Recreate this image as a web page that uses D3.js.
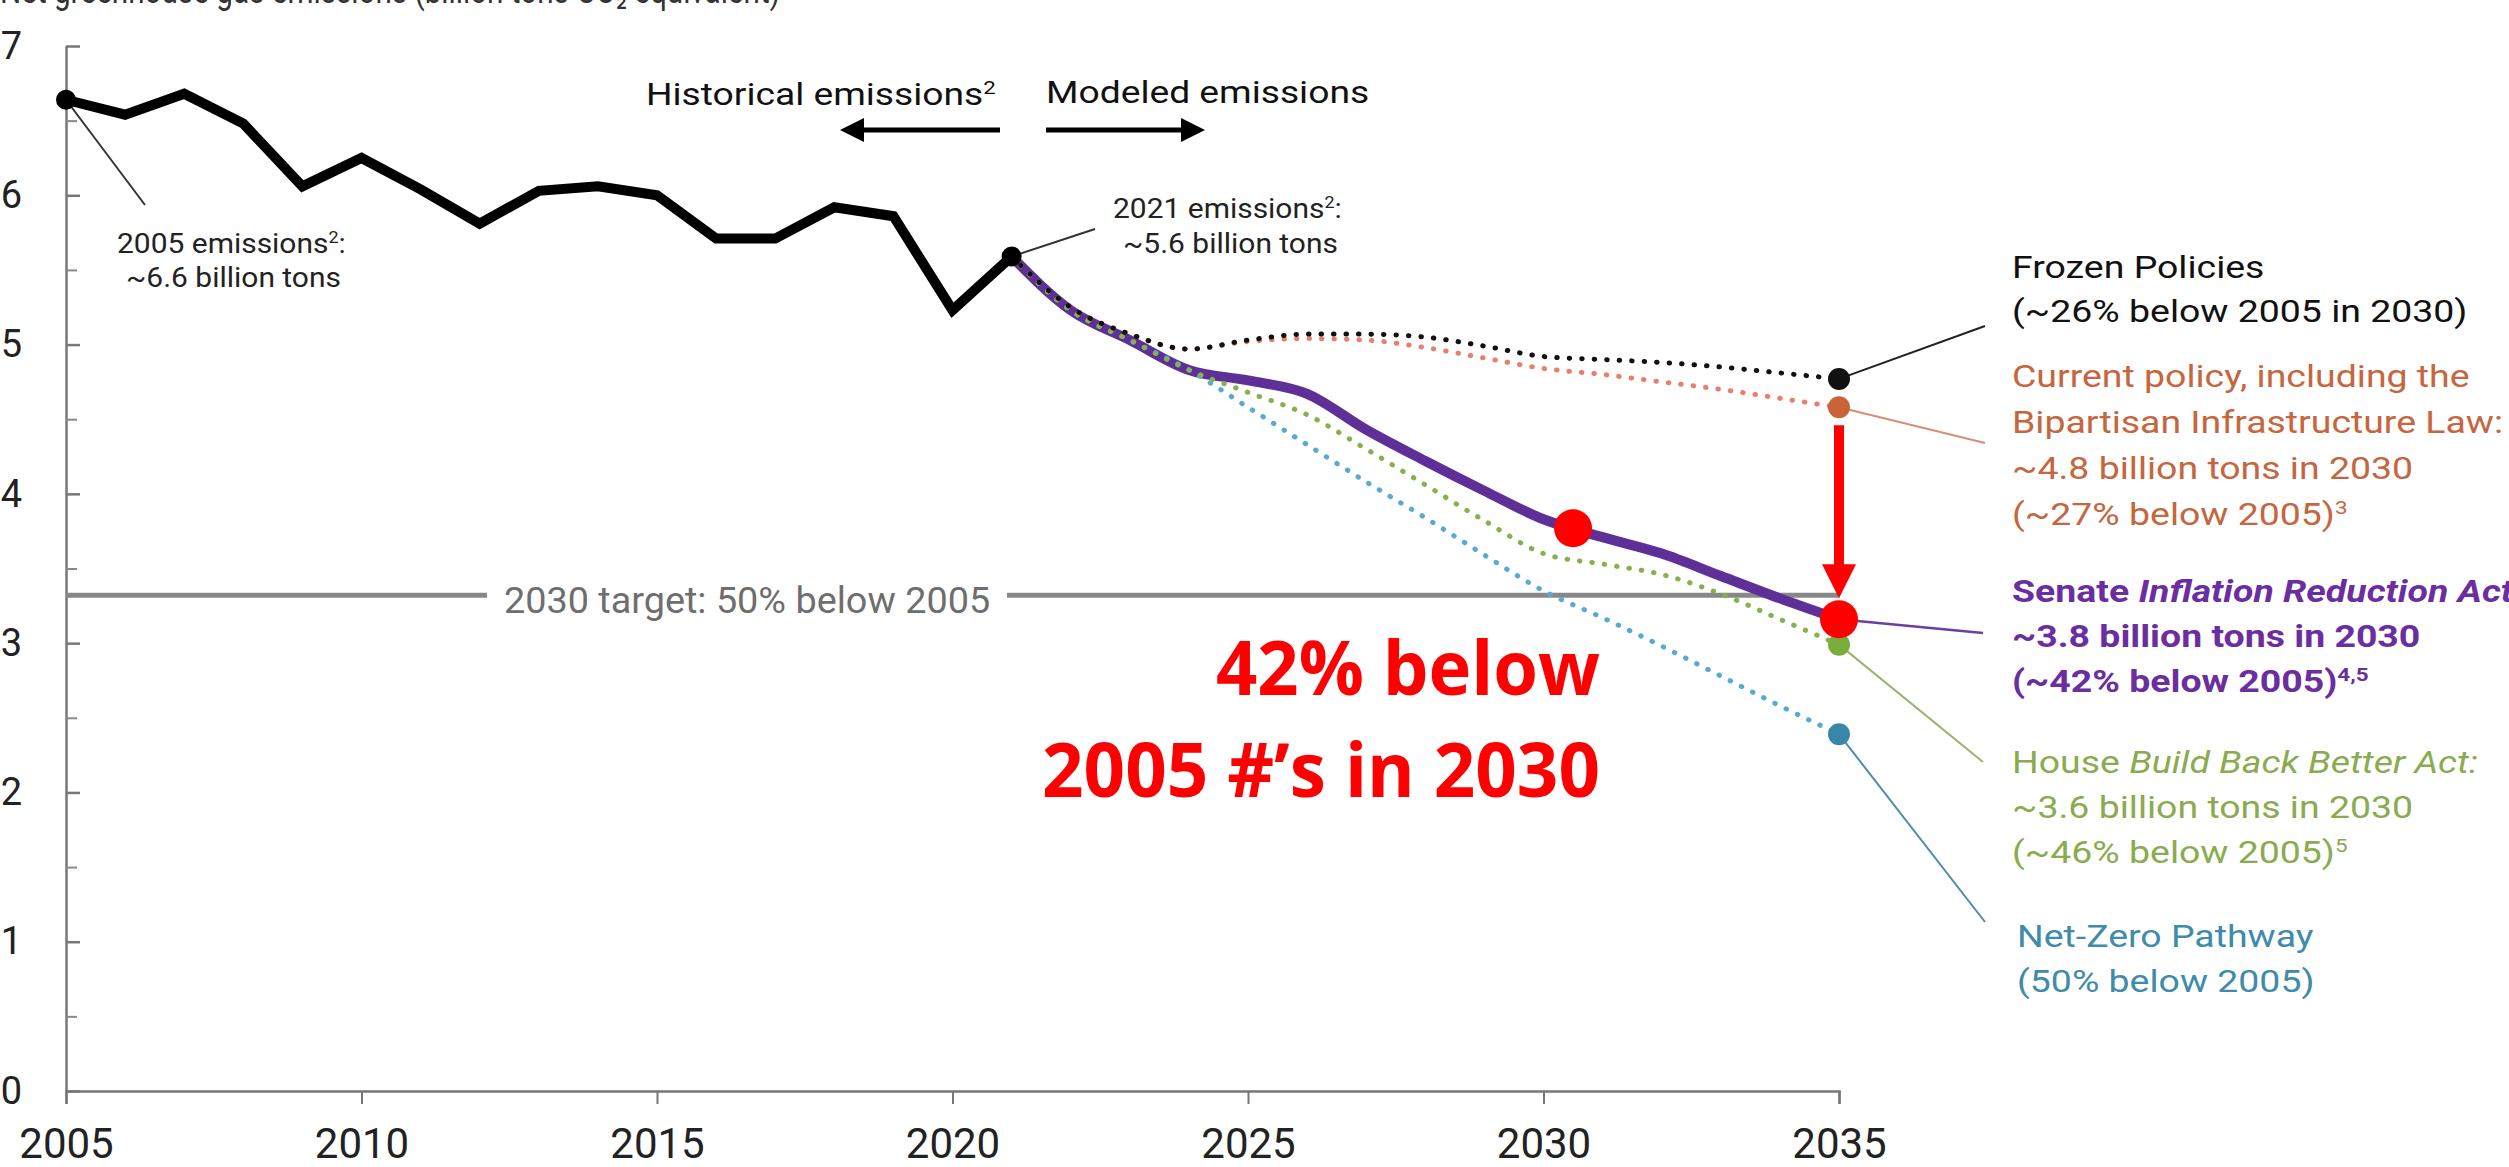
<!DOCTYPE html>
<html>
<head>
<meta charset="utf-8">
<script src="https://cdn.jsdelivr.net/npm/d3@7"></script>
<style>
  body { margin: 0; background: #fff; }
  svg { display: block; font-family: Roboto, "Noto Sans", sans-serif; }
</style>
</head>
<body>
<div id="chart"></div>
<script>
var width = 2509, height = 1167;

// historical emissions, billion tons
var histYears = [2005, 2006, 2007, 2008, 2009, 2010, 2011, 2012, 2013, 2014, 2015, 2016, 2017, 2018, 2019, 2020, 2021];
var histValues = [6.64, 6.54, 6.68, 6.48, 6.06, 6.25, 6.04, 5.81, 6.03, 6.06, 6.00, 5.71, 5.71, 5.92, 5.86, 5.23, 5.59];

// modeled emissions
var projYears = [2021, 2022, 2023, 2024, 2025, 2026, 2027, 2028, 2029, 2030, 2031, 2032, 2033, 2034, 2035];
var frozen  = [5.59, 5.25, 5.07, 4.97, 5.03, 5.07, 5.07, 5.05, 4.99, 4.92, 4.90, 4.88, 4.85, 4.81, 4.77];
var current = [5.59, 5.25, 5.07, 4.97, 5.02, 5.04, 5.03, 4.98, 4.91, 4.84, 4.80, 4.75, 4.70, 4.64, 4.58];
var ira     = [5.59, 5.23, 5.03, 4.83, 4.76, 4.67, 4.43, 4.22, 4.02, 3.83, 3.71, 3.60, 3.45, 3.30, 3.16];
var bbb     = [5.59, 5.23, 5.03, 4.83, 4.68, 4.53, 4.30, 4.06, 3.82, 3.60, 3.53, 3.46, 3.33, 3.16, 2.99];
var netZero = [5.59, 5.23, 5.03, 4.83, 4.58, 4.33, 4.08, 3.84, 3.59, 3.35, 3.17, 2.98, 2.78, 2.58, 2.39];

var target = 3.32;          // 50% below 2005
var xTicks = [2005, 2010, 2015, 2020, 2025, 2030, 2035];
var yTicks = [0, 1, 2, 3, 4, 5, 6, 7];

// red annotation: dot on the IRA line and arrow from current policy down to IRA
var redDots = [{year: 2030.5, value: 3.77}, {year: 2035, value: 3.16}];
var redArrow = {year: 2035, from: 4.46, to: 3.30};

var svg = d3.select('#chart').append('svg')
    .attr('width', width)
    .attr('height', height);

var x = d3.scaleLinear().domain([2005, 2035]).range([66, 1839]);
var y = d3.scaleLinear().domain([0, 7]).range([1091, 46]);

// cut-off title at the very top
svg.append('text')
    .attr('x', 0).attr('y', 3)
    .attr('textLength', 780).attr('lengthAdjust', 'spacingAndGlyphs')
    .style('font-size', '36px').style('fill', '#333')
    .text('Net greenhouse gas emissions (billion tons CO₂ equivalent)');

// axes
var xAxis = d3.axisBottom(x).tickValues(xTicks).tickFormat(d3.format('d')).tickSize(13).tickPadding(24);
var gx = svg.append('g').attr('transform', 'translate(0,' + y(0) + ')').call(xAxis);
gx.select('.domain').attr('stroke', '#777').attr('stroke-width', 2.5);
gx.selectAll('.tick line').attr('stroke', '#777').attr('stroke-width', 2);
gx.selectAll('.tick text').style('font-size', '42px').style('fill', '#222').attr('font-family', 'Roboto');

var yAxis = d3.axisLeft(y).tickValues(yTicks).tickFormat(d3.format('d'))
    .tickSize(-14).tickPadding(44).tickSizeOuter(0);
var gy = svg.append('g').attr('transform', 'translate(' + x(2005) + ',0)').call(yAxis);
gy.select('.domain').attr('stroke', '#777').attr('stroke-width', 2.5);
gy.selectAll('.tick line').attr('stroke', '#777').attr('stroke-width', 2.5);
gy.selectAll('.tick text').style('font-size', '38px').style('fill', '#222').attr('font-family', 'Roboto');

var yMinor = d3.axisLeft(y).tickValues(d3.range(0.5, 7, 1)).tickSize(-11).tickFormat('');
var gm = svg.append('g').attr('transform', 'translate(' + x(2005) + ',0)').call(yMinor);
gm.select('.domain').remove();
gm.selectAll('.tick line').attr('stroke', '#888').attr('stroke-width', 2);

// 2030 target line, broken around its label
svg.append('line')
    .attr('x1', x(2005)).attr('x2', 487)
    .attr('y1', y(target)).attr('y2', y(target))
    .attr('stroke', '#888').attr('stroke-width', 5);
svg.append('line')
    .attr('x1', 1007).attr('x2', x(2035))
    .attr('y1', y(target)).attr('y2', y(target))
    .attr('stroke', '#888').attr('stroke-width', 5);
svg.append('text')
    .attr('transform', 'translate(504,' + (y(target) + 18) + ') scale(1.05,1)')
    .style('font-size', '36px').style('fill', '#6e6e6e')
    .text('2030 target: 50% below 2005');

// lines
var histLine = d3.line().x(function(d, i){ return x(histYears[i]); }).y(function(d){ return y(d); });
var projLine = d3.line().curve(d3.curveMonotoneX)
    .x(function(d, i){ return x(projYears[i]); }).y(function(d){ return y(d); });

svg.append('path').datum(ira)
    .attr('d', projLine).attr('fill', 'none')
    .attr('stroke', '#5f2f98').attr('stroke-width', 10).attr('stroke-linejoin', 'round');

var dotted = [
  {values: netZero, color: '#5aa9d3'},
  {values: bbb,     color: '#86b24e'},
  {values: current, color: '#e6806a'},
  {values: frozen,  color: '#111111'}
];
dotted.forEach(function(s) {
  svg.append('path').datum(s.values)
      .attr('d', projLine).attr('fill', 'none')
      .attr('stroke', s.color).attr('stroke-width', 5)
      .attr('stroke-linecap', 'round').attr('stroke-dasharray', '0.5 12');
});

svg.append('path').datum(histValues)
    .attr('d', histLine).attr('fill', 'none')
    .attr('stroke', '#000').attr('stroke-width', 10);

// leader lines
function leader(x1, y1, x2, y2, color, w) {
  svg.append('line').attr('x1', x1).attr('y1', y1).attr('x2', x2).attr('y2', y2)
      .attr('stroke', color).attr('stroke-width', w || 2);
}
leader(x(2005), y(histValues[0]), 145, 205, '#333');
leader(x(2021), y(histValues[16]), 1095, 229, '#333');
leader(x(2035), y(frozen[14]), 1985, 326, '#222');
leader(x(2035), y(current[14]), 1985, 443, '#d48f78');
leader(x(2035), y(ira[14]), 1983, 633, '#6b3fa0', 2.5);
leader(x(2035), y(bbb[14]), 1983, 762, '#97b56b');
leader(x(2035), y(netZero[14]), 1985, 922, '#4d8cab');

// dots
svg.append('circle').attr('cx', x(2005)).attr('cy', y(histValues[0])).attr('r', 10).attr('fill', '#000');
svg.append('circle').attr('cx', x(2021)).attr('cy', y(histValues[16])).attr('r', 10).attr('fill', '#000');
var endDots = [
  {v: frozen[14], c: '#111'},
  {v: current[14], c: '#c9643a'},
  {v: bbb[14], c: '#79ab3d'},
  {v: netZero[14], c: '#3a86a8'}
];
svg.selectAll('circle.end').data(endDots).enter().append('circle')
    .attr('class', 'end')
    .attr('cx', x(2035)).attr('cy', function(d){ return y(d.v); })
    .attr('r', 11).attr('fill', function(d){ return d.c; });

// text blocks
function block(x0, y0, lh, sx, size, color, weight, lines) {
  var g = svg.append('g').attr('transform', 'translate(' + x0 + ',' + y0 + ') scale(' + sx + ',1)');
  lines.forEach(function(segs, i) {
    var t = g.append('text').attr('x', 0).attr('y', i * lh)
        .style('font-size', size + 'px').style('fill', color).style('font-weight', weight);
    segs.forEach(function(s) {
      if (typeof s === 'string') { t.append('tspan').text(s); return; }
      var ts = t.append('tspan').text(s.t);
      if (s.i) ts.style('font-style', 'italic');
      if (s.sup) ts.style('font-size', (size * 0.6) + 'px').attr('baseline-shift', 'super');
    });
  });
  return g;
}

block(117, 253, 34, 1.07, 28, '#222', 400, [["2005 emissions", {t: '2', sup: 1}, ":"]]);
block(126, 287, 34, 1.07, 28, '#222', 400, [["~6.6 billion tons"]]);
block(1113, 218, 35, 1.07, 28, '#222', 400, [["2021 emissions", {t: '2', sup: 1}, ":"]]);
block(1123, 253, 35, 1.07, 28, '#222', 400, [["~5.6 billion tons"]]);

block(646, 105, 40, 1.2, 31, '#111', 400, [["Historical emissions", {t: '2', sup: 1}]]);
block(1046, 103, 40, 1.2, 31, '#111', 400, [["Modeled emissions"]]);

// arrows under the headings
function hArrow(xFrom, xTo, yy) {
  var dir = xTo > xFrom ? 1 : -1;
  svg.append('line').attr('x1', xFrom).attr('x2', xTo - dir * 16).attr('y1', yy).attr('y2', yy)
      .attr('stroke', '#000').attr('stroke-width', 5);
  svg.append('path')
      .attr('d', 'M' + xTo + ',' + yy + 'L' + (xTo - dir * 24) + ',' + (yy - 12) + 'L' + (xTo - dir * 24) + ',' + (yy + 12) + 'Z')
      .attr('fill', '#000');
}
hArrow(1000, 840, 130);
hArrow(1046, 1205, 130);

block(2012, 278, 44, 1.17, 32, '#111', 400, [["Frozen Policies"], ["(~26% below 2005 in 2030)"]]);
block(2012, 387, 46, 1.17, 32, '#c5663f', 400, [
  ["Current policy, including the"],
  ["Bipartisan Infrastructure Law:"],
  ["~4.8 billion tons in 2030"],
  ["(~27% below 2005)", {t: '3', sup: 1}]
]);
block(2012, 602, 45, 1.17, 32, '#6a2ea0', 700, [
  ["Senate ", {t: 'Inflation Reduction Act:', i: 1}],
  ["~3.8 billion tons in 2030"],
  ["(~42% below 2005)", {t: '4,5', sup: 1}]
]);
block(2012, 773, 45, 1.17, 32, '#8aab4f', 400, [
  ["House ", {t: 'Build Back Better Act:', i: 1}],
  ["~3.6 billion tons in 2030"],
  ["(~46% below 2005)", {t: '5', sup: 1}]
]);
block(2017, 947, 45, 1.17, 32, '#3f8bab', 400, [["Net-Zero Pathway"], ["(50% below 2005)"]]);

// red annotation
svg.append('line')
    .attr('x1', x(redArrow.year)).attr('x2', x(redArrow.year))
    .attr('y1', y(redArrow.from)).attr('y2', y(redArrow.to) - 30)
    .attr('stroke', '#ff0000').attr('stroke-width', 10);
svg.append('path')
    .attr('d', 'M' + x(redArrow.year) + ',' + y(redArrow.to) +
               'L' + (x(redArrow.year) - 17) + ',' + (y(redArrow.to) - 34) +
               'L' + (x(redArrow.year) + 17) + ',' + (y(redArrow.to) - 34) + 'Z')
    .attr('fill', '#ff0000');
svg.selectAll('circle.red').data(redDots).enter().append('circle')
    .attr('class', 'red')
    .attr('cx', function(d){ return x(d.year); })
    .attr('cy', function(d){ return y(d.value); })
    .attr('r', 19).attr('fill', '#ff0000');

svg.append('text')
    .attr('x', 1600).attr('y', 695).attr('text-anchor', 'end')
    .attr('textLength', 384).attr('lengthAdjust', 'spacingAndGlyphs')
    .attr('font-family', '"Liberation Sans Narrow", "Open Sans", sans-serif')
    .style('font-size', '76px').style('font-weight', 700).style('fill', '#ff0000')
    .text('42% below');
svg.append('text')
    .attr('x', 1600).attr('y', 797).attr('text-anchor', 'end')
    .attr('textLength', 558).attr('lengthAdjust', 'spacingAndGlyphs')
    .attr('font-family', '"Liberation Sans Narrow", "Open Sans", sans-serif')
    .style('font-size', '76px').style('font-weight', 700).style('fill', '#ff0000')
    .text('2005 #’s in 2030');
</script>
</body>
</html>
